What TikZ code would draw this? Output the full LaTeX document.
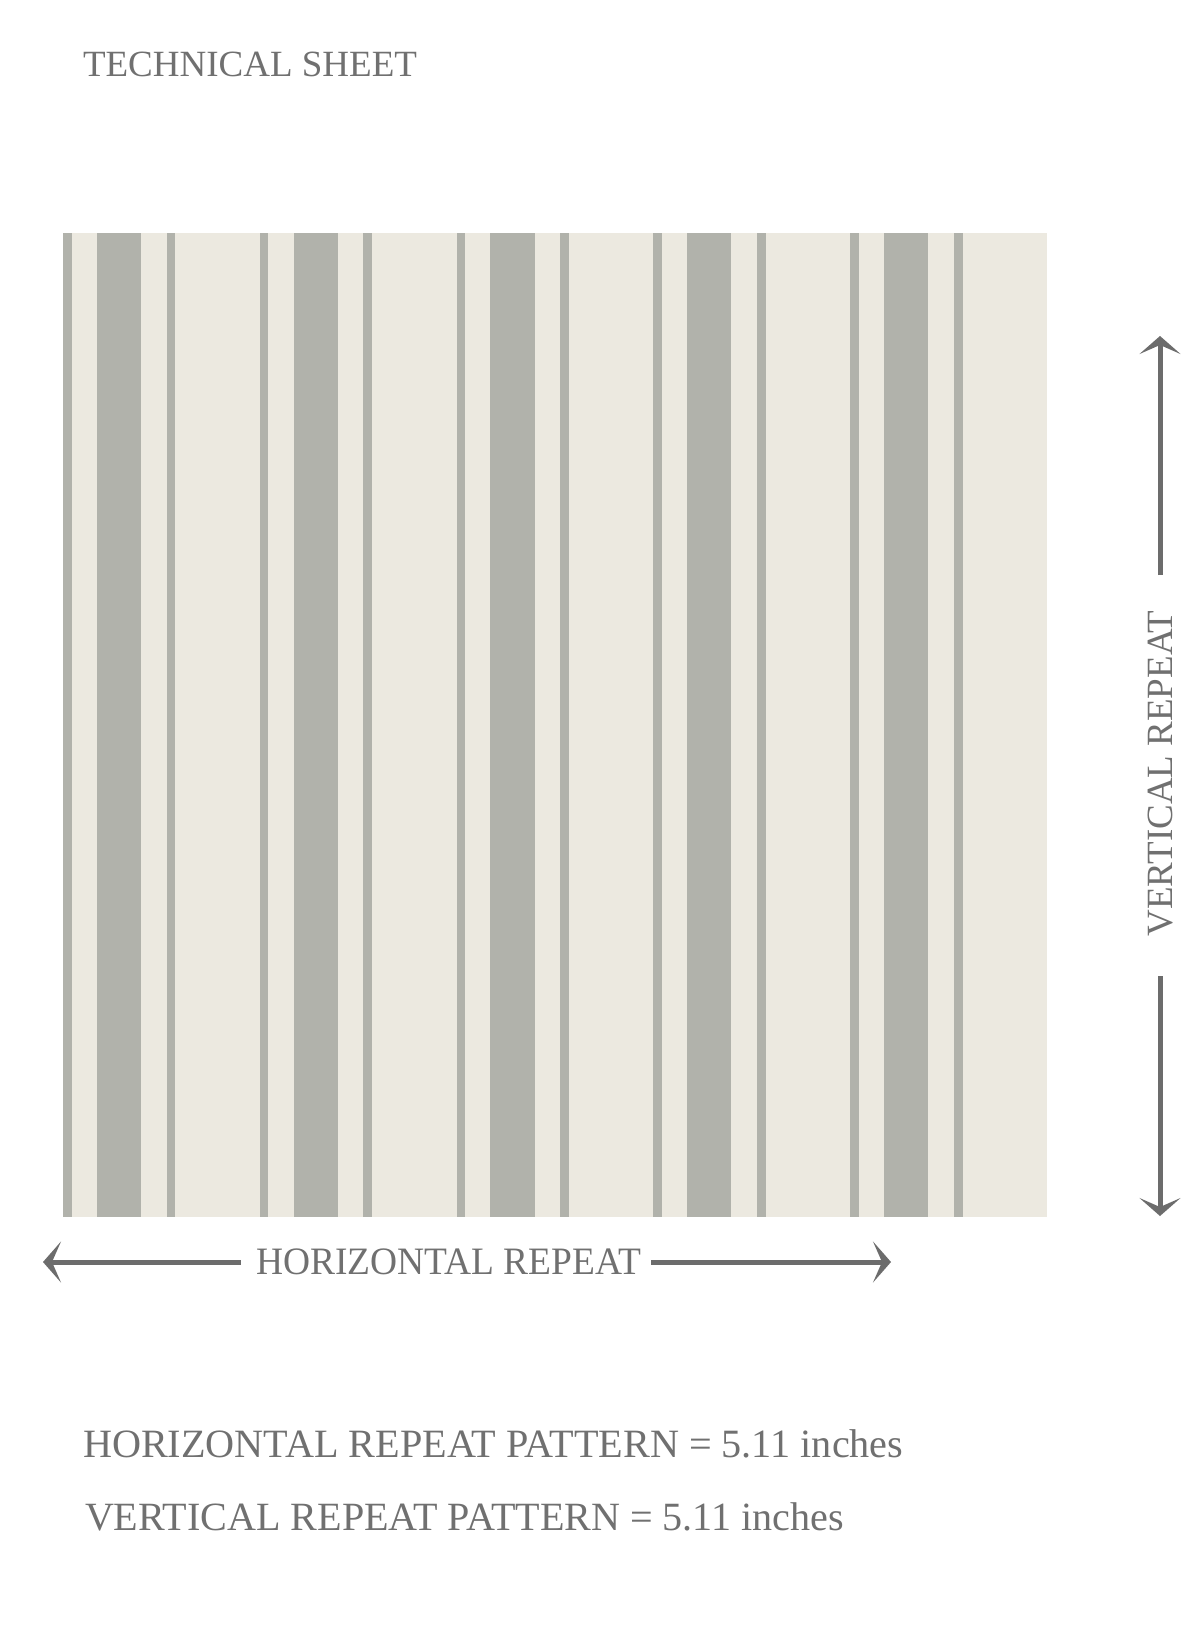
\documentclass[tikz,border=0pt]{standalone}
\usepackage{fontspec}
\setmainfont{Liberation Serif}
\usetikzlibrary{arrows.meta}
\definecolor{cream}{RGB}{236,233,224}
\definecolor{stripe}{RGB}{177,178,171}
\definecolor{ink}{RGB}{112,112,112}
\definecolor{arrowgray}{RGB}{108,108,108}
\begin{document}
\begin{tikzpicture}[x=1pt,y=-1pt,
  lbl/.style={inner sep=0pt, outer sep=0pt, text=ink},
  dimline/.style={draw=arrowgray, line width=5pt},
  tipend/.style={-{Stealth[length=18pt,width=41pt,inset=9pt]}},
  stripefill/.style={fill=stripe}]
\useasboundingbox (0,0) rectangle (1200,1650);
\fill[white] (0,0) rectangle (1200,1650);
% fabric swatch
\fill[cream] (63,232.5) rectangle (1047,1216.5);
\foreach \k in {0,...,4} {
  \pgfmathsetmacro\o{63+196.8*\k}
  \fill[stripefill] (\o,232.5) rectangle (\o+8.6,1216.5);
  \fill[stripefill] (\o+33.8,232.5) rectangle (\o+78,1216.5);
  \fill[stripefill] (\o+103.5,232.5) rectangle (\o+112.3,1216.5);
}
% texts
\node[lbl, anchor=base west, font=\fontsize{37}{40}\selectfont] (title) at (83,76.7) {TECHNICAL SHEET};
\node[lbl, anchor=base west, font=\fontsize{38.8}{42}\selectfont] (hlab) at (256,1274) {\scalebox{0.965}[1]{HORIZONTAL REPEAT}};
\node[lbl, anchor=base, rotate=90, font=\fontsize{37}{40}\selectfont] (vlab) at (1172,773.5) {VERTICAL REPEAT};
\node[lbl, anchor=base west, font=\fontsize{40.2}{44}\selectfont] (hrp) at (83,1457) {HORIZONTAL REPEAT PATTERN = 5.11 inches};
\node[lbl, anchor=base west, font=\fontsize{40.1}{44}\selectfont] (vrp) at (85,1530) {VERTICAL REPEAT PATTERN = 5.11 inches};
% horizontal repeat arrow
\coordinate (hLs) at (240.5,1262);
\coordinate (hL) at (43,1262);
\coordinate (hRs) at (651,1262);
\coordinate (hR) at (891,1262);
\draw[dimline,tipend] (hLs) -- (hL);
\draw[dimline,tipend] (hRs) -- (hR);
% vertical repeat arrow
\coordinate (vTs) at (1160,575);
\coordinate (vT) at (1160,336);
\coordinate (vBs) at (1160,976);
\coordinate (vB) at (1160,1216);
\draw[dimline,tipend] (vTs) -- (vT);
\draw[dimline,tipend] (vBs) -- (vB);
\end{tikzpicture}
\end{document}
